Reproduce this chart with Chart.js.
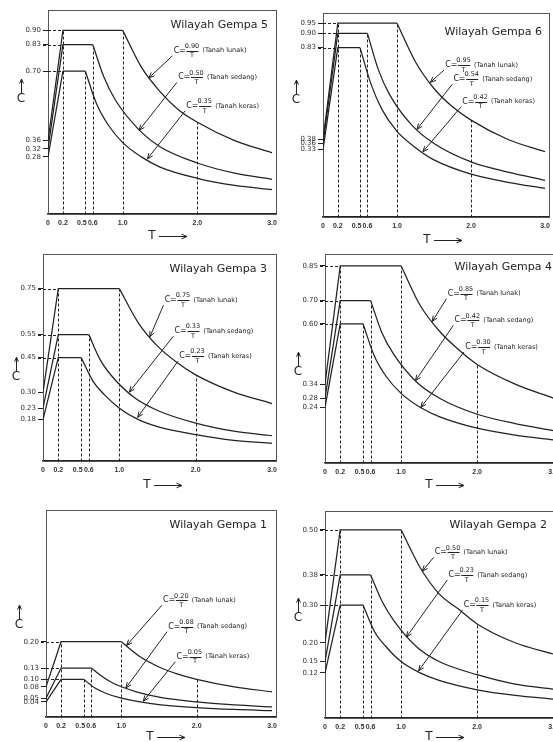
<!DOCTYPE html>
<html><head><meta charset="utf-8">
<script src="https://cdn.jsdelivr.net/npm/chart.js@4/dist/chart.umd.min.js"></script>
<style>
html,body{margin:0;padding:0;background:#fff;}
body{width:553px;height:742px;overflow:hidden;position:relative;}
</style>
</head><body>
<script>
// ---------- shared axis data ----------
const T_TICKS = [0, 0.2, 0.5, 0.6, 1.0, 2.0, 3.0];
const T_TICK_LABELS = ['0', '0.2', '0.5', '0.6', '1.0', '2.0', '3.0'];
const T_RISE_LUNAK = [0, 0.2, 1.0];
const T_RISE_SEDANG = [0, 0.2, 0.6];
const T_RISE_KERAS = [0, 0.2, 0.5];
const T_DECAY_LUNAK = [1.0, 1.25, 1.5, 1.75, 2.0, 2.5, 3.0];
const T_DECAY_SEDANG = [0.6, 0.75, 0.9, 1.2, 1.5, 2.0, 2.5, 3.0];
const T_DECAY_KERAS = [0.5, 0.65, 0.8, 1.0, 1.25, 1.5, 2.0, 2.5, 3.0];
const SOIL_LABELS = ['(Tanah lunak)', '(Tanah sedang)', '(Tanah keras)'];

// ---------- Wilayah Gempa 5 ----------
const Z5_Y_TICKS = [0.28, 0.32, 0.36, 0.70, 0.83, 0.90];
const Z5_RISE_LUNAK = [0.36, 0.90, 0.90];
const Z5_RISE_SEDANG = [0.32, 0.83, 0.83];
const Z5_RISE_KERAS = [0.28, 0.70, 0.70];
const Z5_DECAY_LUNAK = [0.90, 0.72, 0.60, 0.51, 0.45, 0.36, 0.30];
const Z5_DECAY_SEDANG = [0.83, 0.67, 0.56, 0.42, 0.33, 0.25, 0.20, 0.17];
const Z5_DECAY_KERAS = [0.70, 0.54, 0.44, 0.35, 0.28, 0.23, 0.175, 0.14, 0.12];
const Z5_AR = ['0.90', '0.50', '0.35'];

// ---------- Wilayah Gempa 6 ----------
const Z6_Y_TICKS = [0.33, 0.36, 0.38, 0.83, 0.90, 0.95];
const Z6_RISE_LUNAK = [0.38, 0.95, 0.95];
const Z6_RISE_SEDANG = [0.36, 0.90, 0.90];
const Z6_RISE_KERAS = [0.33, 0.83, 0.83];
const Z6_DECAY_LUNAK = [0.95, 0.76, 0.63, 0.54, 0.475, 0.38, 0.32];
const Z6_DECAY_SEDANG = [0.90, 0.72, 0.60, 0.45, 0.36, 0.27, 0.22, 0.18];
const Z6_DECAY_KERAS = [0.83, 0.65, 0.525, 0.42, 0.34, 0.28, 0.21, 0.17, 0.14];
const Z6_AR = ['0.95', '0.54', '0.42'];

// ---------- Wilayah Gempa 3 ----------
const Z3_Y_TICKS = [0.18, 0.23, 0.30, 0.45, 0.55, 0.75];
const Z3_RISE_LUNAK = [0.30, 0.75, 0.75];
const Z3_RISE_SEDANG = [0.23, 0.55, 0.55];
const Z3_RISE_KERAS = [0.18, 0.45, 0.45];
const Z3_DECAY_LUNAK = [0.75, 0.60, 0.50, 0.43, 0.375, 0.30, 0.25];
const Z3_DECAY_SEDANG = [0.55, 0.44, 0.37, 0.275, 0.22, 0.165, 0.13, 0.11];
const Z3_DECAY_KERAS = [0.45, 0.35, 0.29, 0.23, 0.18, 0.15, 0.115, 0.09, 0.077];
const Z3_AR = ['0.75', '0.33', '0.23'];

// ---------- Wilayah Gempa 4 ----------
const Z4_Y_TICKS = [0.24, 0.28, 0.34, 0.60, 0.70, 0.85];
const Z4_RISE_LUNAK = [0.34, 0.85, 0.85];
const Z4_RISE_SEDANG = [0.28, 0.70, 0.70];
const Z4_RISE_KERAS = [0.24, 0.60, 0.60];
const Z4_DECAY_LUNAK = [0.85, 0.68, 0.57, 0.49, 0.425, 0.34, 0.28];
const Z4_DECAY_SEDANG = [0.70, 0.56, 0.47, 0.35, 0.28, 0.21, 0.17, 0.14];
const Z4_DECAY_KERAS = [0.60, 0.46, 0.375, 0.30, 0.24, 0.20, 0.15, 0.12, 0.10];
const Z4_AR = ['0.85', '0.42', '0.30'];

// ---------- Wilayah Gempa 1 ----------
const Z1_Y_TICKS = [0.04, 0.05, 0.08, 0.10, 0.13, 0.20];
const Z1_RISE_LUNAK = [0.08, 0.20, 0.20];
const Z1_RISE_SEDANG = [0.05, 0.13, 0.13];
const Z1_RISE_KERAS = [0.04, 0.10, 0.10];
const Z1_DECAY_LUNAK = [0.20, 0.16, 0.133, 0.114, 0.10, 0.08, 0.067];
const Z1_DECAY_SEDANG = [0.13, 0.107, 0.089, 0.067, 0.053, 0.04, 0.032, 0.027];
const Z1_DECAY_KERAS = [0.10, 0.077, 0.0625, 0.05, 0.04, 0.033, 0.025, 0.02, 0.017];
const Z1_AR = ['0.20', '0.08', '0.05'];

// ---------- Wilayah Gempa 2 ----------
const Z2_Y_TICKS = [0.12, 0.15, 0.20, 0.30, 0.38, 0.50];
const Z2_RISE_LUNAK = [0.20, 0.50, 0.50];
const Z2_RISE_SEDANG = [0.15, 0.38, 0.38];
const Z2_RISE_KERAS = [0.12, 0.30, 0.30];
const Z2_DECAY_LUNAK = [0.50, 0.40, 0.33, 0.29, 0.25, 0.20, 0.17];
const Z2_DECAY_SEDANG = [0.38, 0.31, 0.26, 0.19, 0.15, 0.115, 0.09, 0.077];
const Z2_DECAY_KERAS = [0.30, 0.23, 0.19, 0.15, 0.12, 0.10, 0.075, 0.06, 0.05];
const Z2_AR = ['0.50', '0.23', '0.15'];

const T_RISE = [T_RISE_LUNAK, T_RISE_SEDANG, T_RISE_KERAS];
const T_DECAY = [T_DECAY_LUNAK, T_DECAY_SEDANG, T_DECAY_KERAS];

const ZONES = [
  {id: 5, yTicks: Z5_Y_TICKS, rise: [Z5_RISE_LUNAK, Z5_RISE_SEDANG, Z5_RISE_KERAS], decay: [Z5_DECAY_LUNAK, Z5_DECAY_SEDANG, Z5_DECAY_KERAS], ar: Z5_AR},
  {id: 6, yTicks: Z6_Y_TICKS, rise: [Z6_RISE_LUNAK, Z6_RISE_SEDANG, Z6_RISE_KERAS], decay: [Z6_DECAY_LUNAK, Z6_DECAY_SEDANG, Z6_DECAY_KERAS], ar: Z6_AR},
  {id: 3, yTicks: Z3_Y_TICKS, rise: [Z3_RISE_LUNAK, Z3_RISE_SEDANG, Z3_RISE_KERAS], decay: [Z3_DECAY_LUNAK, Z3_DECAY_SEDANG, Z3_DECAY_KERAS], ar: Z3_AR},
  {id: 4, yTicks: Z4_Y_TICKS, rise: [Z4_RISE_LUNAK, Z4_RISE_SEDANG, Z4_RISE_KERAS], decay: [Z4_DECAY_LUNAK, Z4_DECAY_SEDANG, Z4_DECAY_KERAS], ar: Z4_AR},
  {id: 1, yTicks: Z1_Y_TICKS, rise: [Z1_RISE_LUNAK, Z1_RISE_SEDANG, Z1_RISE_KERAS], decay: [Z1_DECAY_LUNAK, Z1_DECAY_SEDANG, Z1_DECAY_KERAS], ar: Z1_AR},
  {id: 2, yTicks: Z2_Y_TICKS, rise: [Z2_RISE_LUNAK, Z2_RISE_SEDANG, Z2_RISE_KERAS], decay: [Z2_DECAY_LUNAK, Z2_DECAY_SEDANG, Z2_DECAY_KERAS], ar: Z2_AR}
];

// ---------- layout (positions only) ----------
const LAYOUT = {
  5: {box: [0, 0, 282, 248], L: 48, T: 10, R: 277, B: 214, yMax: 1.0, xMax: 3.05, titleRight: 268, titleDy: 15, cDy: 89, tDy: 22,
      notes: [[1.72, 0.80, 1.35, 0.667], [1.78, 0.67, 1.22, 0.41], [1.89, 0.53, 1.33, 0.27]]},
  6: {box: [280, 0, 275, 250], L: 323, T: 13, R: 549, B: 217, yMax: 1.0, xMax: 3.05, titleRight: 542, titleDy: 19, cDy: 87, tDy: 23,
      notes: [[1.69, 0.745, 1.45, 0.66], [1.80, 0.675, 1.27, 0.43], [1.92, 0.565, 1.35, 0.32]]},
  3: {box: [0, 248, 282, 248], L: 43, T: 253, R: 277, B: 461, yMax: 0.9, xMax: 3.05, titleRight: 267, titleDy: 15, cDy: 123, tDy: 24,
      notes: [[1.63, 0.70, 1.40, 0.54], [1.76, 0.565, 1.13, 0.30], [1.82, 0.456, 1.24, 0.19]]},
  4: {box: [282, 248, 285, 248], L: 325, T: 254, R: 557, B: 463, yMax: 0.9, xMax: 3.05, titleRight: 552, titleDy: 13, cDy: 118, tDy: 22,
      notes: [[1.65, 0.73, 1.41, 0.61], [1.74, 0.615, 1.19, 0.355], [1.88, 0.50, 1.26, 0.24]]},
  1: {box: [0, 496, 282, 246], L: 46, T: 510, R: 276, B: 717, yMax: 0.55, xMax: 3.05, titleRight: 267, titleDy: 15, cDy: 115, tDy: 20,
      notes: [[1.59, 0.31, 1.07, 0.19], [1.66, 0.24, 1.06, 0.077], [1.77, 0.16, 1.29, 0.042]]},
  2: {box: [282, 496, 285, 246], L: 325, T: 511, R: 557, B: 718, yMax: 0.55, xMax: 3.05, titleRight: 547, titleDy: 14, cDy: 107, tDy: 19,
      notes: [[1.48, 0.44, 1.28, 0.39], [1.66, 0.38, 1.07, 0.215], [1.86, 0.30, 1.23, 0.125]]}
};

const INK = '#222';
const FONT = 'DejaVu Sans';

function pts(xs, ys) { return xs.map((x, i) => ({x: x, y: ys[i]})); }

function arrowHead(ctx, x1, y1, x2, y2, len) {
  const a = Math.atan2(y2 - y1, x2 - x1);
  ctx.beginPath();
  ctx.moveTo(x2 - len * Math.cos(a - 0.4), y2 - len * Math.sin(a - 0.4));
  ctx.lineTo(x2, y2);
  ctx.lineTo(x2 - len * Math.cos(a + 0.4), y2 - len * Math.sin(a + 0.4));
  ctx.stroke();
}

function decoPlugin(z, lay) {
  return {
    id: 'deco' + z.id,
    beforeDatasetsDraw(chart) {
      const xs = chart.scales.x, ys = chart.scales.y, ctx = chart.ctx, ca = chart.chartArea;
      const px = v => Math.round(xs.getPixelForValue(v)) + 0.5;
      const py = v => Math.round(ys.getPixelForValue(v)) + 0.5;
      ctx.save();
      ctx.strokeStyle = '#555'; ctx.lineWidth = 1;
      ctx.strokeRect(Math.round(ca.left) + 0.5, Math.round(ca.top) + 0.5, Math.round(ca.right - ca.left), Math.round(ca.bottom - ca.top));
      ctx.strokeStyle = INK; ctx.setLineDash([3, 2]);
      const plate = z.rise.map(r => r[1]);
      const xKnee = px(T_RISE_LUNAK[1]);
      const seg = (a, b, c, d) => { ctx.beginPath(); ctx.moveTo(a, b); ctx.lineTo(c, d); ctx.stroke(); };
      plate.forEach(p => seg(ca.left - 5, py(p), xKnee, py(p)));
      seg(xKnee, py(0), xKnee, py(Math.max(...plate)));
      for (let k = 0; k < 3; k++) seg(px(T_DECAY[k][0]), py(0), px(T_DECAY[k][0]), py(plate[k]));
      const i2 = T_DECAY_LUNAK.indexOf(2.0);
      seg(px(2.0), py(0), px(2.0), py(z.decay[0][i2]));
      ctx.restore();
    },
    afterDatasetsDraw(chart) {
      const xs = chart.scales.x, ys = chart.scales.y, ctx = chart.ctx, ca = chart.chartArea;
      const ox = lay.box[0];
      ctx.save();
      ctx.fillStyle = INK; ctx.strokeStyle = INK; ctx.lineWidth = 1;
      // title
      ctx.font = '11px "' + FONT + '"';
      ctx.textAlign = 'right'; ctx.textBaseline = 'middle';
      ctx.fillText('Wilayah Gempa ' + z.id, lay.titleRight - ox, ca.top + lay.titleDy);
      // y axis label C with up arrow
      const cx = ca.left - 27, cy = ca.top + lay.cDy;
      ctx.font = '12px "' + FONT + '"'; ctx.textAlign = 'center';
      ctx.fillText('C', cx, cy);
      ctx.beginPath(); ctx.moveTo(cx + 0.5, cy - 6); ctx.lineTo(cx + 0.5, cy - 20); ctx.stroke();
      arrowHead(ctx, cx + 0.5, cy - 6, cx + 0.5, cy - 20, 5);
      // x axis label T with right arrow
      const tx = ca.left + 104, ty = ca.bottom + lay.tDy;
      ctx.fillText('T', tx, ty);
      ctx.beginPath(); ctx.moveTo(tx + 7, ty + 0.5); ctx.lineTo(tx + 35, ty + 0.5); ctx.stroke();
      arrowHead(ctx, tx + 7, ty + 0.5, tx + 35, ty + 0.5, 6);
      // formula annotations
      lay.notes.forEach((n, k) => {
        const x0 = xs.getPixelForValue(n[0]), y0 = ys.getPixelForValue(n[1]);
        const hx = xs.getPixelForValue(n[2]), hy = ys.getPixelForValue(n[3]);
        ctx.font = '8px "' + FONT + '"'; ctx.textAlign = 'center'; ctx.textBaseline = 'middle';
        ctx.fillText('C', x0, y0);
        ctx.fillText('=', x0 + 6, y0);
        ctx.font = '6.5px "' + FONT + '"';
        ctx.fillText(z.ar[k], x0 + 15.5, y0 - 4.5);
        ctx.fillText('T', x0 + 15.5, y0 + 5);
        ctx.beginPath(); ctx.moveTo(x0 + 10, Math.round(y0) + 0.5); ctx.lineTo(x0 + 22, Math.round(y0) + 0.5); ctx.stroke();
        ctx.textAlign = 'left';
        ctx.fillText(SOIL_LABELS[k], x0 + 26, y0);
        const sx = x0 - 4, sy = y0 + 5;
        ctx.beginPath(); ctx.moveTo(sx, sy); ctx.lineTo(hx, hy); ctx.stroke();
        arrowHead(ctx, sx, sy, hx, hy, 6);
      });
      ctx.restore();
    }
  };
}

ZONES.forEach(z => {
  const lay = LAYOUT[z.id];
  const [bl, bt, bw, bh] = lay.box;
  const div = document.createElement('div');
  div.style.cssText = 'position:absolute;left:' + bl + 'px;top:' + bt + 'px;width:' + bw + 'px;height:' + bh + 'px;';
  const cv = document.createElement('canvas');
  div.appendChild(cv);
  document.body.appendChild(div);

  const datasets = [];
  for (let k = 0; k < 3; k++) {
    datasets.push({label: SOIL_LABELS[k], data: pts(T_RISE[k], z.rise[k]), tension: 0,
      borderColor: INK, borderWidth: 1.25, pointRadius: 0, fill: false});
    datasets.push({label: SOIL_LABELS[k], data: pts(T_DECAY[k], z.decay[k]), cubicInterpolationMode: 'monotone',
      borderColor: INK, borderWidth: 1.25, pointRadius: 0, fill: false});
  }

  new Chart(cv, {
    type: 'line',
    data: {datasets: datasets},
    options: {
      responsive: true, maintainAspectRatio: false, animation: false, devicePixelRatio: 1,
      layout: {padding: {left: 0, top: lay.T - bt, right: bl + bw - lay.R, bottom: 0}},
      plugins: {legend: {display: false}, tooltip: {enabled: false}, title: {display: false}},
      scales: {
        x: {
          type: 'linear', min: 0, max: lay.xMax,
          afterBuildTicks: s => { s.ticks = T_TICKS.map(v => ({value: v})); },
          afterFit: s => { s.height = bt + bh - lay.B; },
          ticks: {autoSkip: false, maxRotation: 0, padding: 5, color: '#333',
            font: {size: 7, family: 'Liberation Sans', weight: 'bold'},
            callback: (v, i) => T_TICK_LABELS[i] + (v === 0.5 ? '\u2002\u2002' : '')},
          grid: {display: false, drawTicks: false},
          border: {display: true, color: INK, width: 1.5}
        },
        y: {
          type: 'linear', min: 0, max: lay.yMax,
          afterBuildTicks: s => { s.ticks = z.yTicks.map(v => ({value: v})); },
          afterFit: s => { s.width = lay.L - bl; },
          ticks: {autoSkip: false, padding: 2, color: '#333',
            font: {size: 7, family: FONT},
            callback: v => Number(v).toFixed(2)},
          grid: {drawOnChartArea: false, tickLength: 5, color: INK},
          border: {display: true, color: INK, width: 1}
        }
      }
    },
    plugins: [decoPlugin(z, lay)]
  });
});
</script>
</body></html>
